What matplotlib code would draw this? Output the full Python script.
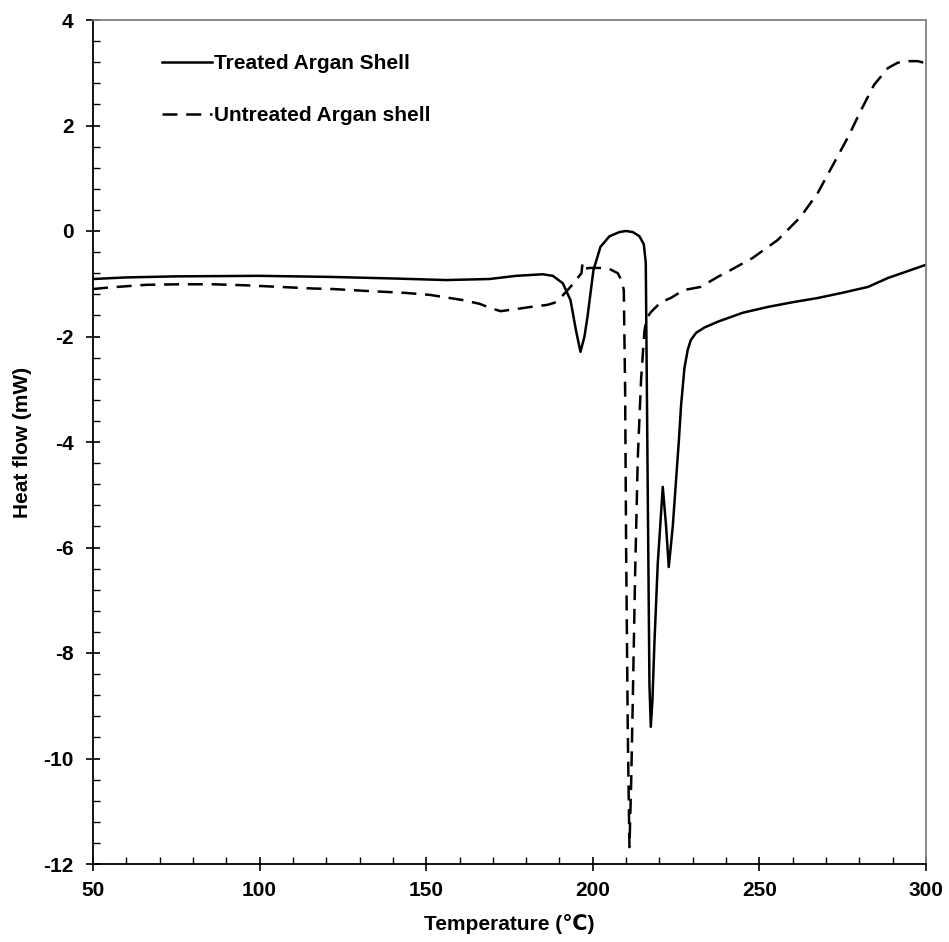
import numpy as np
import matplotlib
matplotlib.use('Agg')
import matplotlib.pyplot as plt
from matplotlib.ticker import MultipleLocator

plt.rcParams['font.family'] = ['Liberation Sans', 'DejaVu Sans']
plt.rcParams['font.weight'] = 'bold'
plt.rcParams['axes.unicode_minus'] = False

# Treated Argan Shell (solid)
treated_t = [50, 60, 75, 100, 121, 140, 156, 169, 177, 185, 188, 191, 193.3, 195,
             196.3, 197.5, 198.4, 200.2, 202.3, 205, 208, 210, 212, 214, 215.3,
             215.9, 216.5, 217.0, 217.4, 217.9, 218.5, 219.5, 221, 222, 222.8,
             224, 225.8, 226.5, 227.5, 228.5, 229.4, 231, 233.5, 237.5, 245,
             252.5, 260, 267.5, 275, 282.6, 288.6, 295, 300]
treated_hf = [-0.91, -0.88, -0.86, -0.85, -0.87, -0.90, -0.93, -0.91, -0.85, -0.82,
              -0.85, -0.99, -1.31, -1.90, -2.29, -2.00, -1.63, -0.74, -0.30, -0.10,
              -0.02, 0.00, -0.02, -0.10, -0.25, -0.60, -5.0, -8.6, -9.4, -8.9,
              -7.8, -6.3, -4.85, -5.6, -6.37, -5.6, -4.0, -3.3, -2.6, -2.25,
              -2.07, -1.93, -1.83, -1.72, -1.55, -1.44, -1.35, -1.27, -1.17,
              -1.06, -0.89, -0.75, -0.64]

# Untreated Argan shell (dashed)
untreated_t = [50, 55, 66, 76, 86, 96, 106, 116, 122, 133, 143, 151, 161, 166,
               169.3, 172.3, 177, 181.3, 186.4, 188.5, 190.3, 193.3, 195.7, 196.6,
               196.9, 197.2, 199, 202.3, 205, 207.5, 208.7, 209.3, 209.7, 210.0,
               210.5, 211, 211.5, 212, 212.7, 213.5, 214.5, 215.5, 216.2, 217.4,
               220.4, 223.4, 227.3, 232.4, 237.5, 241.4, 248, 255.5, 262.4, 267.5,
               272.4, 276.6, 280.5, 284.4, 288.6, 291.5, 294.6, 297.5, 300]
untreated_hf = [-1.10, -1.07, -1.02, -1.01, -1.01, -1.03, -1.06, -1.09, -1.10, -1.14,
                -1.17, -1.21, -1.31, -1.38, -1.46, -1.52, -1.48, -1.44, -1.40, -1.36,
                -1.27, -1.06, -0.87, -0.80, -0.62, -0.72, -0.70, -0.70, -0.72, -0.80,
                -0.95, -1.12, -3.0, -6.0, -9.5, -11.68, -10.5, -8.9, -6.5, -4.3,
                -2.8, -1.9, -1.65, -1.54, -1.35, -1.27, -1.12, -1.06, -0.87, -0.74,
                -0.51, -0.17, 0.27, 0.72, 1.29, 1.78, 2.29, 2.77, 3.09, 3.19,
                3.22, 3.22, 3.18]

fig = plt.figure(figsize=(9.49, 9.42), dpi=100)
ax = fig.add_axes([93/949, 78/942, 833/949, 844/942])

ax.plot(treated_t, treated_hf, color='black', linewidth=1.8,
        solid_joinstyle='round', label='Treated Argan Shell')
ax.plot(untreated_t, untreated_hf, color='black', linewidth=1.8,
        dashes=(6, 3.5), label='Untreated Argan shell')

ax.set_xlim(50, 300)
ax.set_ylim(-12, 4)
ax.xaxis.set_major_locator(MultipleLocator(50))
ax.xaxis.set_minor_locator(MultipleLocator(10))
ax.yaxis.set_major_locator(MultipleLocator(2))
ax.yaxis.set_minor_locator(MultipleLocator(0.4))
ax.tick_params(which='major', direction='inout', length=10, width=1.2,
               labelsize=15, pad=7)
ax.tick_params(axis='y', which='major', pad=9)
ax.tick_params(which='minor', direction='in', length=5, width=1.0)
for lab in ax.get_xticklabels() + ax.get_yticklabels():
    lab.set_fontweight('bold')

for s in ['left', 'bottom']:
    ax.spines[s].set_linewidth(1.3)
for s in ['top', 'right']:
    ax.spines[s].set_color('#808080')
    ax.spines[s].set_linewidth(1.3)

ax.set_xlabel('Temperature (℃)', fontsize=15, fontweight='bold', labelpad=10)
ax.set_ylabel('Heat flow (mW)', fontsize=15, fontweight='bold', labelpad=8)

ax.legend(loc='upper left', bbox_to_anchor=(0.060, 0.982), frameon=False,
          handlelength=2.4, handletextpad=0.1, labelspacing=1.6,
          prop={'weight': 'bold', 'size': 15})

fig.savefig('out.png', dpi=100)
